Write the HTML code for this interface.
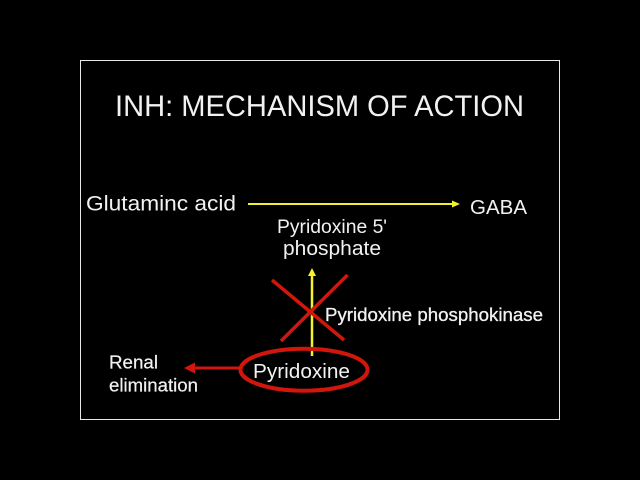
<!DOCTYPE html>
<html>
<head>
<meta charset="utf-8">
<style>
html,body{margin:0;padding:0;background:#000;width:640px;height:480px;overflow:hidden}
svg{display:block}
text{font-family:"Liberation Sans",sans-serif;fill:#f2f2f2}
</style>
</head>
<body>
<svg width="640" height="480" viewBox="0 0 640 480">
<rect width="640" height="480" fill="#000"/>
<rect x="80.5" y="60.5" width="479" height="359" fill="none" stroke="#e8e8e8" stroke-width="1"/>
<text x="115" y="116" font-size="29.500" textLength="409" lengthAdjust="spacingAndGlyphs">INH: MECHANISM OF ACTION</text>
<text x="86" y="210.500" font-size="21" textLength="150" lengthAdjust="spacingAndGlyphs">Glutaminc acid</text>
<text x="470" y="214" font-size="20" textLength="57" lengthAdjust="spacingAndGlyphs">GABA</text>
<text x="277" y="233" font-size="19" textLength="110" lengthAdjust="spacingAndGlyphs">Pyridoxine 5'</text>
<text x="283" y="255" font-size="20" textLength="98" lengthAdjust="spacingAndGlyphs">phosphate</text>
<text x="325" y="321" font-size="18.500" stroke="#f2f2f2" stroke-width="0.3" textLength="218" lengthAdjust="spacingAndGlyphs">Pyridoxine phosphokinase</text>
<text x="253" y="378" font-size="20" textLength="97" lengthAdjust="spacingAndGlyphs">Pyridoxine</text>
<text x="109" y="368.500" font-size="18" stroke="#f2f2f2" stroke-width="0.2" textLength="49" lengthAdjust="spacingAndGlyphs">Renal</text>
<text x="109" y="391.500" font-size="18" stroke="#f2f2f2" stroke-width="0.2" textLength="89" lengthAdjust="spacingAndGlyphs">elimination</text>
<line x1="248" y1="204" x2="453" y2="204" stroke="#f4f02a" stroke-width="2"/>
<polygon points="460,204 452,200.500 452,207.500" fill="#f4f02a"/>
<line x1="312" y1="356" x2="312" y2="274" stroke="#f4f02a" stroke-width="2.500"/>
<polygon points="312,268 308,276 316,276" fill="#f4f02a"/>
<line x1="272" y1="280" x2="344" y2="340" stroke="#d2160c" stroke-width="3.500"/>
<line x1="347.500" y1="275" x2="281" y2="341" stroke="#d2160c" stroke-width="3.500"/>
<ellipse cx="304" cy="369.700" rx="63.500" ry="21" fill="none" stroke="#d2160c" stroke-width="4"/>
<line x1="240" y1="368" x2="192" y2="368" stroke="#d2160c" stroke-width="3"/>
<polygon points="184,368 195,362.500 195,373.500" fill="#d2160c"/>
</svg>
</body>
</html>
